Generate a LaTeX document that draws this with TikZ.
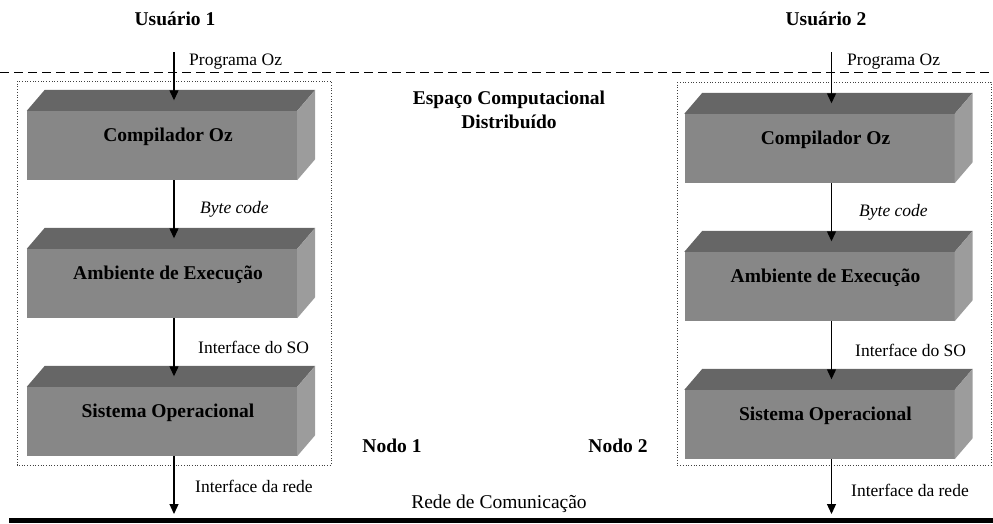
\documentclass[tikz,border=0pt]{standalone}
\usepackage{fontspec}
\setmainfont{Liberation Serif}
\usetikzlibrary{arrows.meta,calc}
\definecolor{topc}{HTML}{666666}
\definecolor{frontc}{HTML}{878787}
\definecolor{sidec}{HTML}{9C9C9C}
\tikzset{
  front/.style={rectangle, minimum width=270pt, minimum height=69pt, inner sep=0pt, fill=frontc},
  boxtext/.style={font=\fontsize{19.5}{22}\selectfont\bfseries, inner sep=0pt},
  boldlbl/.style={font=\fontsize{19.5}{24}\selectfont\bfseries, inner sep=0pt, align=center},
  lbl/.style={font=\fontsize{17.5}{20}\selectfont, inner sep=0pt},
  ilbl/.style={font=\fontsize{17.5}{20}\selectfont\itshape, inner sep=0pt},
  arr/.style={line width=1.2pt, -{Triangle[length=10pt,width=9pt]}},
  frame/.style={draw=black!75, line width=0.7pt, dotted},
}
\newcommand\tdbox[4]{%
  \node[front] (#1) at (#2,#3) {};
  \fill[topc] (#1.north west) -- ([shift={(18,-21)}]#1.north west) -- ([shift={(18,-21)}]#1.north east) -- (#1.north east) -- cycle;
  \fill[sidec] (#1.north east) -- ([shift={(18,-21)}]#1.north east) -- ([shift={(18,-21)}]#1.south east) -- (#1.south east) -- cycle;
  \node[boxtext] (#1t) at ([shift={(6,-9)}]#1.center) {#4};
  \coordinate (#1in) at ([shift={(12,-10.5)}]#1.north);
  \coordinate (#1out) at ([xshift=12]#1.south);
}
\begin{document}
\begin{tikzpicture}[x=1pt,y=-1pt]
\useasboundingbox (0,0) rectangle (993,523);
% separators
\draw[line width=1pt, dash pattern=on 9pt off 5pt] (0,72) -- (993,72);
\fill[black] (9,517.5) rectangle (993,523);
% frames
\draw[frame] (17,81) rectangle (331,465);
\draw[frame] (677,82) rectangle (991,465);
% left column
\tdbox{L1}{162}{145.5}{Compilador Oz}
\tdbox{L2}{162}{283.5}{Ambiente de Execução}
\tdbox{L3}{162}{421.5}{Sistema Operacional}
% right column
\tdbox{R1}{819.5}{148.5}{Compilador Oz}
\tdbox{R2}{819.5}{286.5}{Ambiente de Execução}
\tdbox{R3}{819.5}{424.5}{Sistema Operacional}
% titles
\node[boldlbl] (u1) at (175,19) {Usuário 1};
\node[boldlbl] (u2) at (826,19) {Usuário 2};
\node[boldlbl] (ecd) at (509,110) {Espaço Computacional\\Distribuído};
\node[boldlbl] (n1) at (392,446) {Nodo 1};
\node[boldlbl] (n2) at (618,446) {Nodo 2};
\node[lbl, font=\fontsize{19.5}{22}\selectfont] (rede) at (499,504) {Rede de Comunicação};
% arrows left
\coordinate (Lsrc) at (174,52);
\coordinate (Ldst) at (174,514);
\draw[arr] (Lsrc) -- (L1in);
\draw[arr] (L1out) -- (L2in);
\draw[arr] (L2out) -- (L3in);
\draw[arr] (L3out) -- (Ldst);
% arrows right
\coordinate (Rsrc) at (831.5,52);
\coordinate (Rdst) at (831.5,514);
\draw[arr] (Rsrc) -- (R1in);
\draw[arr] (R1out) -- (R2in);
\draw[arr] (R2out) -- (R3in);
\draw[arr] (R3out) -- (Rdst);
% arrow labels
\node[lbl, anchor=west] (pl) at (189,62) {Programa Oz};
\node[lbl, anchor=west] (pr) at (847,62) {Programa Oz};
\node[ilbl, anchor=west] (bl) at (200,209) {Byte code};
\node[ilbl, anchor=west] (br) at (859,212) {Byte code};
\node[lbl, anchor=west] (sl) at (198,347) {Interface do SO};
\node[lbl, anchor=west] (sr) at (855,350) {Interface do SO};
\node[lbl, anchor=west] (il) at (195,486) {Interface da rede};
\node[lbl, anchor=west] (ir) at (851,490) {Interface da rede};
\end{tikzpicture}
\end{document}
